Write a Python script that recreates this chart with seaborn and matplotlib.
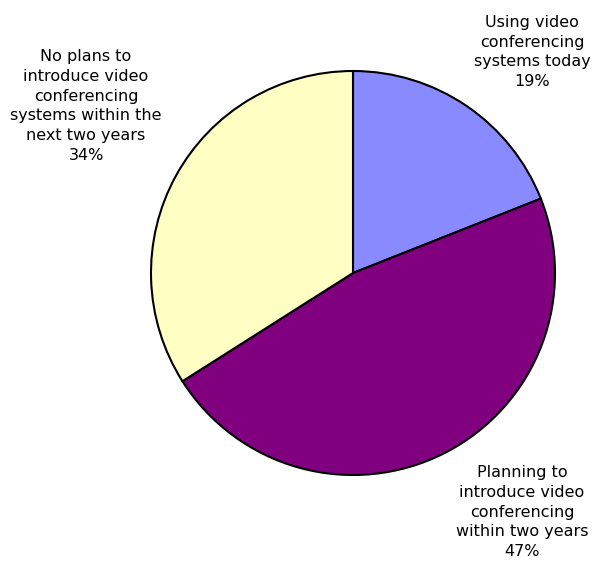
import matplotlib
matplotlib.use("Agg")
import matplotlib.pyplot as plt
import seaborn as sns

categories = [
    "Using video\nconferencing\nsystems today",
    "Planning to\nintroduce video\nconferencing\nwithin two years",
    "No plans to\nintroduce video\nconferencing\nsystems within the\nnext two years",
]
values = [19, 47, 34]
colors = ["#8A8AFF", "#80007F", "#FFFFC4"]

sns.set_style("white")
plt.rcParams['font.family'] = ['DejaVu Sans']

fig = plt.figure(figsize=(5.96, 5.64), dpi=100)
ax = fig.add_axes([0, 0, 1, 1])

ax.pie(values, colors=colors, startangle=90, counterclock=False,
       center=(353, 564 - 273), radius=202,
       wedgeprops=dict(edgecolor='black', linewidth=1.5))

ax.set_xlim(0, 596)
ax.set_ylim(0, 564)
ax.set_aspect('equal')
ax.axis('off')

label_pos = [(532, 564 - 52), (522, 564 - 512), (86, 564 - 106)]
for cat, v, (x, y) in zip(categories, values, label_pos):
    ax.text(x, y, f"{cat}\n{v}%", ha='center', va='center', multialignment='center',
            fontsize=11.5, linespacing=1.4, color='black')

fig.savefig("out.png", dpi=100)
